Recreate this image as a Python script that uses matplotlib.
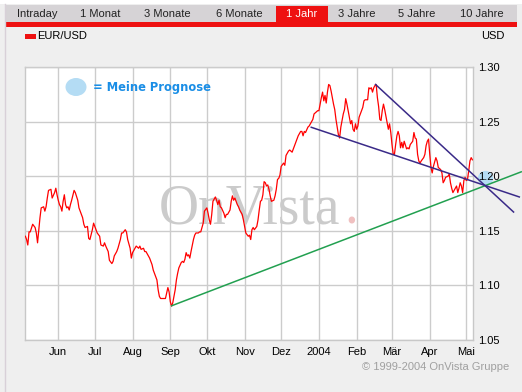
import numpy as np
import matplotlib.pyplot as plt
import matplotlib.dates as mdates
from matplotlib.patches import Rectangle, Ellipse

# EUR/USD, calendar days after 2003-05-05
start = np.datetime64("2003-05-05")
day_offsets = [
    0, 1, 2, 3, 4, 6, 8, 9, 10, 12, 13, 15, 16, 17, 18, 19, 21, 22, 24, 25,
    26, 27, 28, 29, 30, 31, 32, 33, 34, 35, 36, 37, 38, 40, 41, 43, 44, 45, 47, 48,
    49, 51, 52, 53, 55, 56, 57, 59, 61, 62, 64, 65, 66, 68, 69, 71, 72, 73, 75, 76,
    78, 79, 80, 82, 83, 84, 86, 87, 88, 90, 91, 93, 94, 95, 97, 98, 99, 101, 102, 104,
    105, 106, 108, 109, 110, 111, 113, 115, 116, 117, 118, 119, 120, 121, 122, 123, 124, 125, 126, 128,
    129, 130, 131, 132, 133, 134, 135, 136, 138, 139, 140, 142, 143, 144, 146, 147, 149, 150, 151, 152,
    153, 154, 156, 157, 158, 159, 160, 161, 163, 164, 165, 166, 168, 169, 170, 171, 172, 174, 175, 176,
    178, 179, 180, 181, 183, 184, 185, 186, 187, 188, 190, 191, 192, 193, 194, 195, 196, 197, 198, 199,
    200, 201, 202, 204, 205, 206, 207, 208, 209, 210, 212, 213, 214, 216, 217, 218, 219, 221, 222, 223,
    224, 226, 227, 228, 229, 230, 232, 233, 234, 236, 237, 238, 240, 241, 242, 243, 244, 245, 246, 247,
    248, 249, 250, 251, 252, 253, 254, 255, 256, 257, 258, 259, 260, 261, 262, 263, 264, 265, 266, 267,
    268, 269, 270, 271, 272, 273, 274, 276, 277, 278, 279, 281, 282, 283, 284, 285, 286, 287, 288, 289,
    290, 291, 292, 293, 294, 295, 296, 297, 298, 299, 300, 301, 302, 303, 304, 305, 306, 307, 308, 309,
    310, 311, 313, 314, 315, 316, 318, 319, 320, 321, 322, 323, 324, 325, 327, 328, 329, 330, 331, 332,
    333, 334, 335, 337, 338, 339, 341, 342, 343, 344, 345, 347, 348, 349, 350, 351, 352, 354, 355, 356,
    357, 358, 359, 360, 361, 362, 363, 364, 365, 366, 367,
]
eur_usd = [
    1.145, 1.142, 1.137, 1.149, 1.149, 1.156, 1.153, 1.148, 1.139, 1.162,
    1.171, 1.172, 1.168, 1.172, 1.180, 1.187, 1.188, 1.180, 1.185, 1.189,
    1.183, 1.178, 1.174, 1.172, 1.168, 1.177, 1.183, 1.174, 1.171, 1.172,
    1.169, 1.174, 1.178, 1.187, 1.185, 1.178, 1.171, 1.168, 1.162, 1.156,
    1.153, 1.154, 1.143, 1.142, 1.151, 1.157, 1.154, 1.148, 1.145, 1.137,
    1.136, 1.139, 1.136, 1.131, 1.123, 1.120, 1.122, 1.127, 1.131, 1.134,
    1.142, 1.148, 1.148, 1.151, 1.149, 1.142, 1.134, 1.125, 1.130, 1.134,
    1.136, 1.134, 1.136, 1.133, 1.134, 1.131, 1.131, 1.127, 1.125, 1.119,
    1.114, 1.111, 1.105, 1.096, 1.090, 1.088, 1.088, 1.088, 1.093, 1.098,
    1.094, 1.085, 1.081, 1.084, 1.090, 1.096, 1.105, 1.111, 1.116, 1.121,
    1.122, 1.121, 1.124, 1.130, 1.127, 1.128, 1.125, 1.131, 1.142, 1.146,
    1.148, 1.148, 1.149, 1.149, 1.157, 1.168, 1.171, 1.166, 1.160, 1.156,
    1.165, 1.177, 1.181, 1.178, 1.174, 1.178, 1.172, 1.171, 1.166, 1.162,
    1.165, 1.165, 1.169, 1.177, 1.182, 1.178, 1.180, 1.174, 1.172, 1.169,
    1.165, 1.160, 1.154, 1.148, 1.145, 1.146, 1.142, 1.151, 1.153, 1.151,
    1.154, 1.160, 1.169, 1.177, 1.178, 1.183, 1.195, 1.194, 1.191, 1.192,
    1.188, 1.182, 1.177, 1.178, 1.182, 1.188, 1.197, 1.198, 1.201, 1.209,
    1.212, 1.210, 1.219, 1.223, 1.224, 1.223, 1.222, 1.228, 1.231, 1.234,
    1.237, 1.241, 1.241, 1.237, 1.241, 1.240, 1.245, 1.246, 1.248, 1.252,
    1.257, 1.258, 1.260, 1.260, 1.266, 1.272, 1.277, 1.269, 1.274, 1.267,
    1.277, 1.284, 1.283, 1.278, 1.272, 1.266, 1.261, 1.252, 1.245, 1.238,
    1.235, 1.245, 1.251, 1.257, 1.261, 1.271, 1.266, 1.260, 1.254, 1.248,
    1.251, 1.243, 1.241, 1.248, 1.243, 1.246, 1.254, 1.260, 1.263, 1.269,
    1.270, 1.270, 1.281, 1.280, 1.281, 1.277, 1.281, 1.283, 1.284, 1.272,
    1.264, 1.252, 1.251, 1.260, 1.266, 1.261, 1.255, 1.249, 1.243, 1.248,
    1.240, 1.229, 1.220, 1.220, 1.229, 1.237, 1.241, 1.237, 1.226, 1.231,
    1.226, 1.232, 1.225, 1.226, 1.225, 1.229, 1.232, 1.240, 1.235, 1.234,
    1.220, 1.214, 1.212, 1.214, 1.217, 1.220, 1.228, 1.232, 1.234, 1.220,
    1.208, 1.203, 1.209, 1.217, 1.214, 1.208, 1.206, 1.203, 1.194, 1.196,
    1.199, 1.200, 1.202, 1.194, 1.189, 1.185, 1.187, 1.191, 1.185, 1.189,
    1.194, 1.191, 1.185, 1.196, 1.199, 1.196, 1.197, 1.205, 1.214, 1.217,
    1.215,
]

# hand-drawn trend lines (day offset, rate)
support_days = [120.2, 407.1]
support_vals = [1.0814, 1.2040]
upper_days = [287.5, 400.8]
upper_vals = [1.2840, 1.1672]
lower_days = [234.7, 405.5]
lower_vals = [1.2448, 1.1810]
forecast_day = 377.4
forecast_val = 1.1987

month_ticks = ["2003-06-01", "2003-07-01", "2003-08-01", "2003-09-01", "2003-10-01",
               "2003-11-01", "2003-12-01", "2004-01-01", "2004-02-01", "2004-03-01",
               "2004-04-01", "2004-05-01"]
month_labels = ["Jun", "Jul", "Aug", "Sep", "Okt", "Nov", "Dez", "2004", "Feb", "Mär", "Apr", "Mai"]
y_ticks = [1.05, 1.10, 1.15, 1.20, 1.25, 1.30]

tabs = ["Intraday", "1 Monat", "3 Monate", "6 Monate", "1 Jahr", "3 Jahre", "5 Jahre", "10 Jahre"]
tab_x = [37, 100, 167, 239, 302, 357, 417, 482]
active_tab = "1 Jahr"

W, H = 522, 392
FONT = "Liberation Sans"


def px(x, y):
    return x / W, 1 - y / H


fig = plt.figure(figsize=(W / 100, H / 100), dpi=100, facecolor="#efefef")

# header: white strip, tab bar, red rule
fig.add_artist(Rectangle(px(0, 4), 1, 4 / H, transform=fig.transFigure, color="white", lw=0))
fig.add_artist(Rectangle(px(5, 22), 512 / W, 17 / H, transform=fig.transFigure,
                         color="#d6d3d6", lw=0))
fig.add_artist(Rectangle(px(276, 22), 52 / W, 16 / H, transform=fig.transFigure,
                         color="#ee1111", lw=0))
fig.add_artist(Rectangle(px(5, 27), 512 / W, 5 / H, transform=fig.transFigure,
                         color="#ee1111", lw=0))
fig.add_artist(plt.Line2D([4.5 / W, 4.5 / W], [0, 1 - 4 / H], transform=fig.transFigure,
                          color="#d8d0d8", lw=1))
for name, x in zip(tabs, tab_x):
    fig.text(*px(x, 14), name, ha="center", va="center", fontsize=8, family=FONT,
             color="white" if name == active_tab else "#222222")

fig.add_artist(Rectangle(px(25, 38.5), 10.5 / W, 5 / H, transform=fig.transFigure,
                         color="#ee1111", lw=0))
fig.text(*px(37, 36), "EUR/USD", ha="left", va="center", fontsize=8, family=FONT)
fig.text(*px(505, 36), "USD", ha="right", va="center", fontsize=8, family=FONT)
fig.text(*px(509, 367), "© 1999-2004 OnVista Gruppe", ha="right", va="center",
         fontsize=8, family=FONT, color="#a0a0a0")

ax = fig.add_axes([25 / W, 1 - 340 / H, 448 / W, 273 / H])
ax.set_facecolor("white")

x0 = mdates.date2num(start)
dates = x0 + np.array(day_offsets, dtype=float)

ax.plot(dates, eur_usd, color="#ff0000", lw=0.9, zorder=3)
ax.plot(x0 + np.array(support_days), support_vals, color="#22a050", lw=1.1,
        zorder=4, clip_on=False)
ax.plot(x0 + np.array(upper_days), upper_vals, color="#3a2a88", lw=1.1,
        zorder=4, clip_on=False)
ax.plot(x0 + np.array(lower_days), lower_vals, color="#3a2a88", lw=1.1,
        zorder=4, clip_on=False)
ax.plot([x0 + forecast_day], [forecast_val], "o", ms=11, color="#b4dcf4",
        mec="none", zorder=2.6, clip_on=False)

# watermark
ax.text(*px(159, 223), "OnVista", transform=fig.transFigure, fontsize=40,
        family="Liberation Serif", color="#cbcbcb", va="baseline", ha="left", zorder=1)
ax.text(*px(344, 223), ".", transform=fig.transFigure, fontsize=40,
        family="Liberation Serif", color="#f0c0c0", va="baseline", ha="left", zorder=1)

# legend for the forecast point
ax.add_patch(Ellipse(px(76, 87), 21 / W, 18 / H, transform=fig.transFigure,
                     color="#b4dcf4", lw=0, zorder=5))
ax.text(*px(93, 88), "= Meine Prognose", transform=fig.transFigure, fontsize=8.3,
        fontweight="bold", family="DejaVu Sans", color="#1a8ee6", va="center",
        ha="left", zorder=5)

ax.set_xlim(x0 - 0.3, x0 + 367.5)
ax.set_ylim(1.05, 1.30)
ax.set_xticks([mdates.date2num(np.datetime64(d)) for d in month_ticks])
ax.set_xticklabels(month_labels)
ax.set_yticks(y_ticks)
ax.set_yticklabels([f"{v:.2f}" for v in y_ticks])
ax.yaxis.tick_right()
ax.tick_params(length=0, labelsize=8)
ax.tick_params(axis="y", pad=3.5)
ax.tick_params(axis="x", pad=5)
for lab in ax.get_xticklabels() + ax.get_yticklabels():
    lab.set_family(FONT)
ax.grid(True, color="#cccccc", lw=1.0)
ax.set_axisbelow(True)
# horizontal grid under the price line, y labels over the forecast dot
ax.yaxis.set_zorder(2.8)
for sp in ax.spines.values():
    sp.set_color("#c8c8c8")
    sp.set_linewidth(1.0)

fig.savefig("out.png", dpi=100, facecolor=fig.get_facecolor())
